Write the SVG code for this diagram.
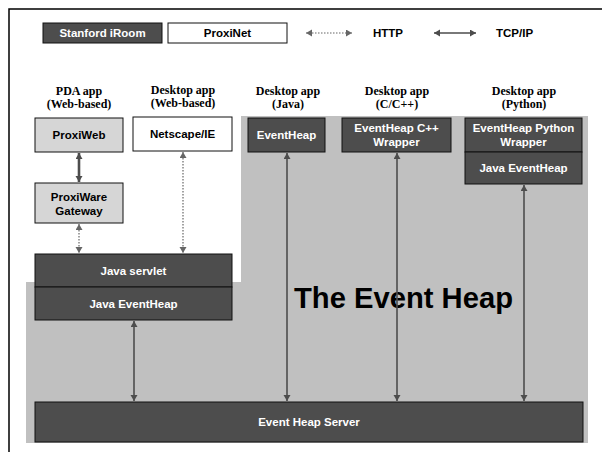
<svg xmlns="http://www.w3.org/2000/svg" width="602" height="452" viewBox="0 0 602 452">
<style>
.dark{fill:#4d4d4d;stroke:#111;stroke-width:1}
.light{fill:#d6d6d6;stroke:#111;stroke-width:1}
.white{fill:#fff;stroke:#111;stroke-width:1}
.tw{font-family:"Liberation Sans",Arial,sans-serif;font-weight:bold;font-size:11.5px;fill:#fff;text-anchor:middle}
.tb{font-family:"Liberation Sans",Arial,sans-serif;font-weight:bold;font-size:11.5px;fill:#000;text-anchor:middle}
.hd{font-family:"Liberation Serif","Times New Roman",serif;font-weight:bold;font-size:12px;fill:#000;text-anchor:middle}
.big{font-family:"Liberation Sans",Arial,sans-serif;font-weight:bold;font-size:30px;fill:#000}
.sol{stroke:#4d4d4d;stroke-width:1.6;fill:none;marker-start:url(#ah);marker-end:url(#ah)}
.solt{stroke:#4d4d4d;stroke-width:2.6;fill:none;marker-start:url(#ah);marker-end:url(#ah)}
.dot{stroke:#666;stroke-width:1.2;stroke-dasharray:1.5 1.5;fill:none;marker-start:url(#ahl);marker-end:url(#ahl)}
</style>
<defs>
<marker id="ah" markerUnits="userSpaceOnUse" markerWidth="8" markerHeight="8" refX="6" refY="3.5" orient="auto-start-reverse" viewBox="0 0 8 8">
<path d="M0,0 L6,3.5 L0,7 z" fill="#4d4d4d"/>
</marker>
<marker id="ahl" markerUnits="userSpaceOnUse" markerWidth="8" markerHeight="8" refX="6" refY="3.5" orient="auto-start-reverse" viewBox="0 0 8 8">
<path d="M0,0 L6,3.5 L0,7 z" fill="#666"/>
</marker>
</defs>
<rect width="602" height="452" fill="#fff"/>
<path d="M9,452 V9 H602" fill="none" stroke="#000" stroke-width="1.5"/>

<g id="legend">
<rect class="dark" x="43" y="23" width="119" height="20"/>
<text class="tw" x="102.5" y="37">Stanford iRoom</text>
<rect class="white" x="168" y="23" width="119" height="20"/>
<text class="tb" x="227.5" y="37">ProxiNet</text>
<line class="dot" x1="306" y1="33" x2="352" y2="33"/>
<text class="tb" x="373" y="37" style="text-anchor:start">HTTP</text>
<line class="sol" x1="434" y1="33" x2="476" y2="33"/>
<text class="tb" x="496" y="37" style="text-anchor:start">TCP/IP</text>
</g>

<g id="headers">
<text class="hd" x="79" y="95">PDA app</text>
<text class="hd" x="79" y="108">(Web-based)</text>
<text class="hd" x="183" y="94">Desktop app</text>
<text class="hd" x="183" y="107">(Web-based)</text>
<text class="hd" x="288" y="95">Desktop app</text>
<text class="hd" x="288" y="108">(Java)</text>
<text class="hd" x="397" y="95">Desktop app</text>
<text class="hd" x="397" y="108">(C/C++)</text>
<text class="hd" x="524" y="95">Desktop app</text>
<text class="hd" x="524" y="108">(Python)</text>
</g>

<g id="event-heap-region">
<path d="M241,116 H588 V443 H26 V282 H241 Z" fill="#c0c0c0"/>
<text class="big" x="294" y="308" textLength="219" lengthAdjust="spacingAndGlyphs">The Event Heap</text>
</g>

<g id="proxiweb">
<rect class="light" x="35" y="118" width="88" height="34"/>
<text class="tb" x="79" y="139">ProxiWeb</text>
</g>
<g id="netscape">
<rect class="white" x="133" y="117" width="99" height="34"/>
<text class="tb" x="182.5" y="138">Netscape/IE</text>
</g>
<g id="proxiware">
<rect class="light" x="35" y="183" width="88" height="40"/>
<text class="tb" x="79" y="201">ProxiWare</text>
<text class="tb" x="79" y="215">Gateway</text>
</g>
<g id="java-servlet">
<rect class="dark" x="35" y="254" width="197" height="33"/>
<text class="tw" x="133.5" y="275">Java servlet</text>
</g>
<g id="java-eventheap-left">
<rect class="dark" x="35" y="287" width="197" height="33"/>
<text class="tw" x="133.5" y="308">Java EventHeap</text>
</g>
<g id="eventheap-java">
<rect class="dark" x="248" y="118" width="77" height="34"/>
<text class="tw" x="286.5" y="139">EventHeap</text>
</g>
<g id="eventheap-cpp">
<rect class="dark" x="342" y="118" width="109" height="34"/>
<text class="tw" x="396.5" y="132">EventHeap C++</text>
<text class="tw" x="396.5" y="146">Wrapper</text>
</g>
<g id="eventheap-python">
<rect class="dark" x="465" y="118" width="117" height="34"/>
<text class="tw" x="523.5" y="132">EventHeap Python</text>
<text class="tw" x="523.5" y="146">Wrapper</text>
</g>
<g id="java-eventheap-right">
<rect class="dark" x="465" y="152" width="117" height="32"/>
<text class="tw" x="523.5" y="172">Java EventHeap</text>
</g>
<g id="server">
<rect class="dark" x="35" y="402" width="548" height="40"/>
<text class="tw" x="309" y="426">Event Heap Server</text>
</g>

<g id="connectors">
<line class="solt" x1="79" y1="153" x2="79" y2="182"/>
<line class="dot" x1="79" y1="224" x2="79" y2="253"/>
<line class="dot" x1="183" y1="152" x2="183" y2="253"/>
<line class="sol" x1="134" y1="321" x2="134" y2="401"/>
<line class="sol" x1="287" y1="153" x2="287" y2="401"/>
<line class="sol" x1="397" y1="153" x2="397" y2="401"/>
<line class="sol" x1="524" y1="185" x2="524" y2="401"/>
</g>
</svg>
